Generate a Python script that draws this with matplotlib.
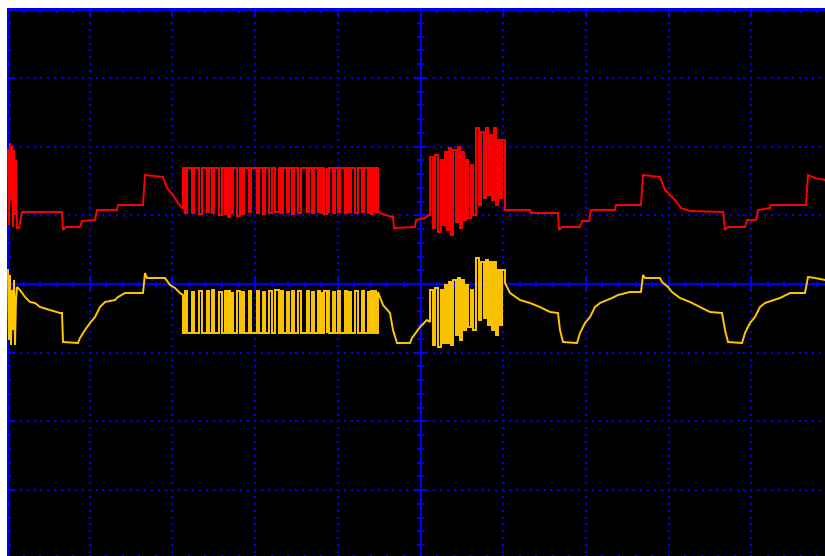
import numpy as np
import matplotlib
matplotlib.use("Agg")
import matplotlib.pyplot as plt
from matplotlib.collections import LineCollection

# ---------------- data (time in record samples, level in ADC counts) ----------------
# screen: 82.7 samples / div, 68.7 counts / div, trigger at sample 413.5
red_pre_t = [1, 2, 3, 4, 5, 6, 7, 8, 9, 10, 12, 15, 55, 56, 59, 73, 75, 88, 90, 110, 111,
             136, 138, 156, 160, 166, 171, 175, 176]
red_pre_v = [134, 59, 141, 84, 138, 57, 134, 69, 124, 56, 56, 72, 72, 54, 57, 57, 63, 64, 74, 74, 79,
             79, 109, 107, 96, 89, 81, 76, 76]

yel_pre_t = [1, 2, 3, 4, 5, 6, 7, 8, 9, 10, 13, 18, 23, 28, 33, 43, 53, 55, 56, 71, 73, 78, 83,
             88, 93, 98, 108, 111, 118, 136, 138, 140, 158, 163, 168, 173, 176]
yel_pre_v = [14, -56, 9, -61, -6, -46, 4, -61, -16, -3, -6, -13, -18, -19, -23, -26, -29, -29, -58, -59,
             -54, -46, -39, -33, -23, -18, -16, -13, -9, -9, 11, 6, 6, -1, -4, -9, -11]

# burst 1 (samples 176..371): red mostly high with dips, yellow mostly low with spikes
b1_start, b1_end = 176, 371
b1_red_base, b1_yel_base = 116, -49
b1_pulse_t = [178, 185, 192, 200, 205, 212, 218, 221, 224, 230, 235, 242, 250, 256, 262, 268,
              274, 280, 285, 291, 300, 305, 311, 314, 317, 320, 326, 331, 338, 342, 348, 355,
              361, 364, 367]
b1_pulse_w = [2, 2, 3, 2, 2, 3, 2, 2, 2, 3, 2, 2, 2, 2, 3, 4,
              2, 2, 2, 3, 2, 2, 2, 2, 3, 2, 2, 2, 2, 2, 3, 2,
              2, 2, 2]
b1_red_low = [71, 71, 70, 72, 71, 69, 70, 67, 71, 68, 70, 72, 71, 70, 71, 72,
              71, 72, 70, 71, 72, 71, 72, 71, 70, 72, 71, 72, 71, 72, 71, 72,
              71, 70, 72]
b1_yel_high = [-7, -8, -7, -7, -6, -8, -7, -7, -9, -7, -8, -7, -7, -8, -7, -6,
               -7, -8, -7, -7, -7, -8, -7, -9, -7, -7, -8, -7, -7, -8, -7, -7,
               -8, -7, -7]

red_mid_t = [371, 378, 386, 387, 408, 409, 418, 422, 423]
red_mid_v = [72, 69, 67, 56, 57, 64, 66, 69, 69]
yel_mid_t = [371, 376, 383, 386, 390, 403, 405, 413, 420, 423]
yel_mid_v = [-8, -21, -29, -46, -59, -59, -54, -43, -36, -38]

# burst 2 (samples 423..498): segment start, red level, yellow level
b2_t = [423, 426, 428, 431, 434, 436, 438, 440, 442, 444, 446, 449, 451, 453, 455, 457, 459,
        461, 464, 466, 469, 472, 474, 477, 479, 481, 483, 485, 487, 489, 491, 493, 495, 498]
b2_red = [127, 56, 129, 52, 124, 59, 132, 54, 136, 49, 134, 62, 137, 56, 132, 64, 124,
          66, 119, 69, 156, 79, 152, 86, 156, 89, 149, 84, 156, 79, 144, 86, 144, 74]
b2_yel = [-6, -61, -4, -63, -6, -59, -1, -59, 2, -61, 4, -51, 6, -56, 4, -46, -1,
          -43, -6, -46, 26, -36, 22, -34, 24, -41, 22, -46, 22, -51, 14, -41, 14, 1]

red_post_t = [498, 523, 524, 551, 552, 555, 573, 575, 582, 584, 608, 609, 634, 636, 653, 658, 668,
              674, 683, 716, 718, 721, 738, 740, 749, 751, 763, 764, 799, 801, 808, 818]
red_post_v = [74, 74, 71, 71, 54, 57, 57, 63, 63, 74, 74, 79, 79, 109, 107, 94, 84,
              76, 73, 72, 54, 57, 57, 64, 64, 74, 76, 79, 79, 109, 106, 104]
yel_post_t = [498, 503, 513, 523, 533, 543, 551, 553, 556, 570, 573, 578, 583, 588, 593, 605, 611,
              623, 634, 636, 638, 653, 655, 661, 665, 673, 683, 693, 703, 715, 718, 721, 735,
              738, 743, 748, 753, 758, 773, 783, 798, 801, 808, 818]
yel_post_v = [1, -9, -16, -19, -23, -28, -29, -46, -58, -59, -49, -39, -33, -23, -19, -14, -11,
              -8, -8, 9, 6, 6, 2, -3, -8, -14, -18, -23, -28, -29, -46, -58, -59,
              -49, -39, -33, -23, -19, -14, -9, -9, 7, 6, 4]

# ---------------- screen geometry ----------------
DIV_T = 82.7
DIV_V = 68.7
T0 = 413.5
W, H = 825, 556

RED = "#ff0000"
YEL = "#ffc800"
BLUE = "#0000ff"


def burst1(base, levels):
    ts, vs = [b1_start], [base]
    for s, w, lv in zip(b1_pulse_t, b1_pulse_w, levels):
        ts += [s, s, s + w, s + w]
        vs += [base, lv, lv, base]
    return ts, vs


def steps(ts, vals, end_t):
    xs, ys = [], []
    for i, (t, v) in enumerate(zip(ts, vals)):
        nxt = ts[i + 1] if i + 1 < len(ts) else end_t
        xs += [t, nxt]
        ys += [v, v]
    return xs, ys


fig = plt.figure(figsize=(W / 100, H / 100), dpi=100, facecolor="white")
ax = fig.add_axes([7 / W, 0, (W - 7) / W, (H - 8) / H])
ax.set_facecolor("black")
ax.set_xlim(0, W - 7)
ax.set_ylim(284 - H, 276)
ax.set_axis_off()
ax.add_patch(plt.Rectangle((0, 284 - H), W, H, color="black", zorder=0))

# dotted grid
kx = [k for k in range(-4, 6) if k != 0]
ky = [k for k in range(-3, 4) if k != 0]
vy = np.arange(-4 * DIV_V, 4 * DIV_V + 0.1, DIV_V / 10)
for k in kx:
    ax.scatter(np.full_like(vy, T0 + k * DIV_T), vy, s=2.0, marker="s", color=BLUE, linewidths=0, zorder=1)
tx = np.arange(T0 - 5 * DIV_T, T0 + 5 * DIV_T + 0.1, DIV_T / 12)
for k in ky:
    ax.scatter(tx, np.full_like(tx, k * DIV_V), s=2.0, marker="s", color=BLUE, linewidths=0, zorder=1)

# center axes and borders
lw_ax = 1.5
ax.axvline(T0, color=BLUE, lw=lw_ax, zorder=2)
ax.axhline(0, color=BLUE, lw=lw_ax, zorder=2)
top = 4 * DIV_V
ax.axhline(top, color=BLUE, lw=2.0, zorder=2)
ax.axvline(0.8, color=BLUE, lw=1.6, zorder=2)
ax.axhline(-top, color=BLUE, lw=2.0, zorder=2)

segs = []
for j in range(-20, 21):
    v = j * DIV_V / 5
    half = 7.5 if j % 5 == 0 else 3.5
    segs.append([(T0 - half, v), (T0 + half, v)])
    ln = 7 if j % 5 == 0 else 4
    segs.append([(0, v), (ln, v)])
for j in range(-25, 26):
    t = T0 + j * DIV_T / 5
    half = 6 if j % 5 == 0 else 2.5
    segs.append([(t, -half), (t, half)])
    ln = 7 if j % 5 == 0 else 3.5
    segs.append([(t, top), (t, top - ln)])
    segs.append([(t, -top), (t, -top + 4)])
ax.add_collection(LineCollection(segs, colors=BLUE, linewidths=1.4, zorder=2))

# traces
rb1_t, rb1_v = burst1(b1_red_base, b1_red_low)
yb1_t, yb1_v = burst1(b1_yel_base, b1_yel_high)
rb2_t, rb2_v = steps(b2_t, b2_red, b2_t[-1])
yb2_t, yb2_v = steps(b2_t, b2_yel, b2_t[-1])

red_t = red_pre_t + rb1_t + [b1_end] + red_mid_t + rb2_t + red_post_t
red_v = red_pre_v + rb1_v + [b1_red_base] + red_mid_v + rb2_v + red_post_v
yel_t = yel_pre_t + yb1_t + [b1_end] + yel_mid_t + yb2_t + yel_post_t
yel_v = yel_pre_v + yb1_v + [b1_yel_base] + yel_mid_v + yb2_v + yel_post_v

ax.plot(red_t, red_v, color=RED, lw=1.4, zorder=4, solid_joinstyle="miter")
ax.plot(yel_t, yel_v, color=YEL, lw=1.4, zorder=4, solid_joinstyle="miter")

fig.savefig("out.png", dpi=100, facecolor="white")
